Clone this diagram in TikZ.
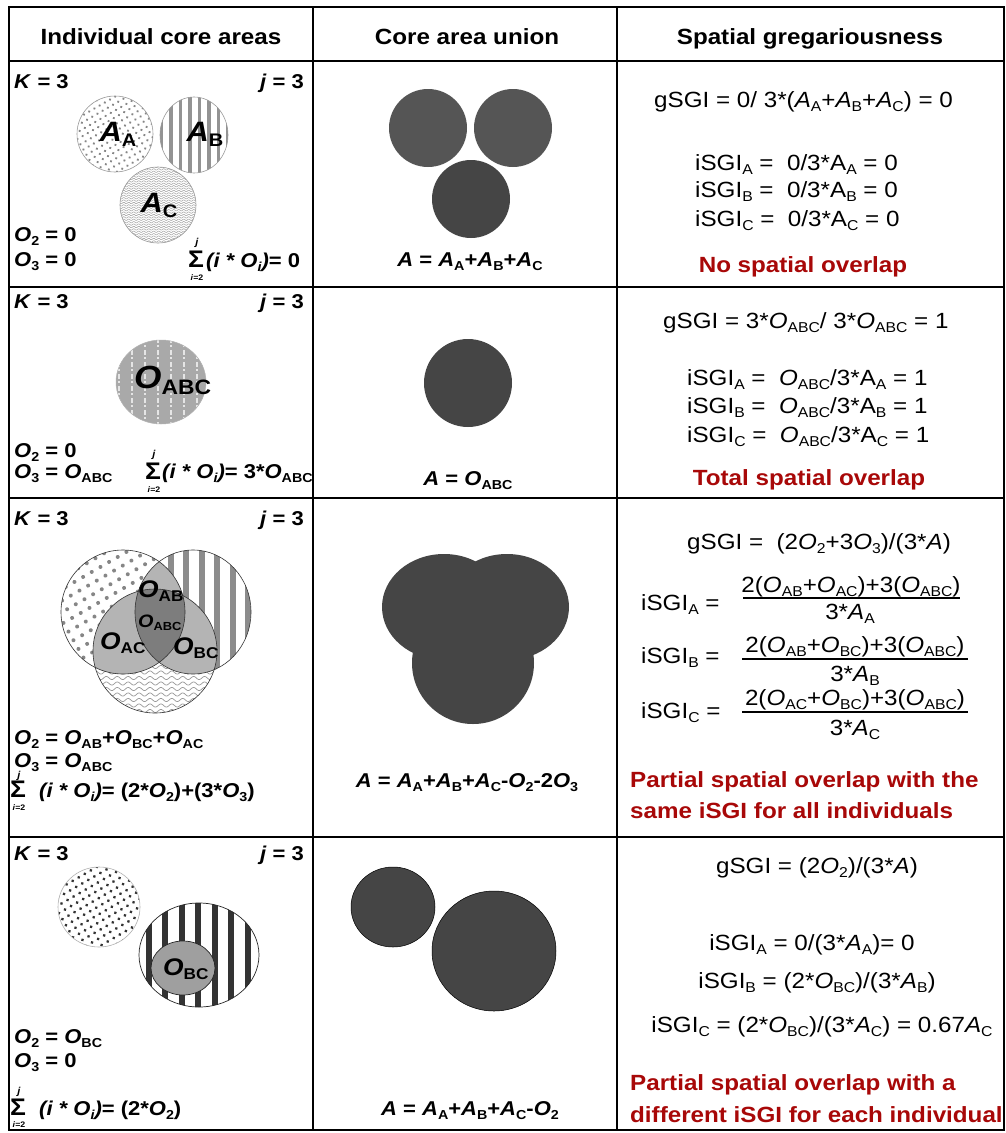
\documentclass[tikz,border=0pt]{standalone}
\usepackage{fontspec}
\setmainfont{Liberation Sans}[FakeStretch=1.1]
\usetikzlibrary{patterns.meta}
\makeatletter
\newcommand\sbs[1]{\raisebox{-0.2em}{\fontsize{\the\dimexpr\f@size pt*65/100\relax}{1pt}\selectfont #1}}
\makeatother
\definecolor{dred}{RGB}{168,8,8}
\definecolor{uA}{RGB}{85,85,85}
\definecolor{uB}{RGB}{69,69,69}
\definecolor{lg}{RGB}{180,180,180}
\definecolor{dg}{RGB}{125,125,125}
\tikzset{
  grid/.style={line width=2pt, black},
  hdr/.style={font=\fontsize{22}{26}\selectfont\bfseries, inner sep=0pt},
  lt/.style={font=\fontsize{20}{24}\selectfont\bfseries, inner sep=0pt},
  bigl/.style={font=\fontsize{28}{30}\selectfont\bfseries, inner sep=0pt},
  midl/.style={font=\fontsize{24}{26}\selectfont\bfseries, inner sep=0pt},
  smll/.style={font=\fontsize{18}{20}\selectfont\bfseries, inner sep=0pt},
  sig/.style={font=\fontsize{24}{26}\selectfont\bfseries, inner sep=0pt},
  tinyj/.style={font=\fontsize{10}{11}\selectfont\bfseries, inner sep=0pt},
  tinyi/.style={font=\fontsize{8}{9}\selectfont\bfseries, inner sep=0pt},
  rtx/.style={font=\fontsize{22}{26}\selectfont, inner sep=0pt},
  redt/.style={font=\fontsize{22}{26}\selectfont\bfseries, text=dred, inner sep=0pt},
  rim/.style={draw=gray!80, line width=0.6pt},
  wave/.style={gray!75, line width=0.5pt},
  wave3/.style={gray!80, line width=0.7pt},
}
\begin{document}
\begin{tikzpicture}[x=1pt,y=-1pt]
\useasboundingbox (0,0) rectangle (1005,1133);
\fill[white] (0,0) rectangle (1005,1133);

% ---------- headers
\node[hdr, anchor=base] (h1) at (161,44) {Individual core areas};
\node[hdr, anchor=base] (h2) at (467,44) {Core area union};
\node[hdr, anchor=base] (h3) at (810,44) {Spatial gregariousness};

% ================= ROW 1
\node[lt, anchor=base west] (k1) at (14,88) {\textit{K} = 3};
\node[lt, anchor=base east] (j1) at (304,88) {\textit{j} = 3};
\fill[pattern={Dots[radius=1.3pt, distance=6pt, angle=30]}, pattern color=gray!95] (115,134) circle[radius=38];
\draw[rim] (115,134) circle[radius=38];
\fill[pattern={Lines[angle=90, distance=9.5pt, line width=3.3pt]}, pattern color=gray!85] (194,135) ellipse[x radius=34, y radius=38];
\draw[rim] (194,135) ellipse[x radius=34, y radius=38];
\begin{scope}
  \clip (158,205) circle[radius=38];
  \foreach \yy in {167,169.4,...,245} \draw[wave] plot[domain=118:198, samples=130] (\x,{\yy+0.7*sin(72*\x)});
\end{scope}
\draw[rim] (158,205) circle[radius=38];
\node[bigl, anchor=base] (la1) at (118,141) {\textit{A}\sbs{A}};
\node[bigl, anchor=base] (lb1) at (205,141) {\textit{A}\sbs{B}};
\node[bigl, anchor=base] (lc1) at (159,212) {\textit{A}\sbs{C}};
\node[lt, anchor=base west] (o21) at (14,241) {\textit{O}\sbs{2} = 0};
\node[lt, anchor=base west] (o31) at (14,266) {\textit{O}\sbs{3} = 0};
\node[sig, anchor=base] (s1) at (196,267) {Σ};
\node[tinyj, anchor=base] (sj1) at (197,245) {\textit{j}};
\node[tinyi, anchor=base] (si1) at (197,280) {\textit{i}=2};
\node[lt, anchor=base west] (se1) at (206,267) {\textit{(i * O\sbs{i})}= 0};

\fill[uA] (428,128) circle[radius=39];
\fill[uA] (513,128) circle[radius=39];
\fill[uB] (471,199) circle[radius=39];
\node[lt, anchor=base] (m1) at (470,266) {\textit{A} = \textit{A}\sbs{A}+\textit{A}\sbs{B}+\textit{A}\sbs{C}};

\node[rtx, anchor=base west] (g1) at (654,107) {gSGI = 0/ 3*(\textit{A}\sbs{A}+\textit{A}\sbs{B}+\textit{A}\sbs{C}) = 0};
\node[rtx, anchor=base west] (i1a) at (695,170) {iSGI\sbs{A} = \ 0/3*A\sbs{A} = 0};
\node[rtx, anchor=base west] (i1b) at (695,197) {iSGI\sbs{B} = \ 0/3*A\sbs{B} = 0};
\node[rtx, anchor=base west] (i1c) at (695,226) {iSGI\sbs{C} = \ 0/3*A\sbs{C} = 0};
\node[redt, anchor=base] (r1) at (803,272) {No spatial overlap};

% ================= ROW 2
\node[lt, anchor=base west] (k2) at (14,308) {\textit{K} = 3};
\node[lt, anchor=base east] (j2) at (304,308) {\textit{j} = 3};
\fill[gray!88!black!60] (161,382) ellipse[x radius=45, y radius=42];
\begin{scope}
  \clip (161,382) ellipse[x radius=45, y radius=42];
  \foreach \xx in {119,132,...,210} \draw[white!80!gray, line width=2.2pt, dash pattern=on 5pt off 2pt on 2pt off 3pt] (\xx,338) -- (\xx,428);
\end{scope}
\draw[gray!60, line width=0.5pt] (161,382) ellipse[x radius=45, y radius=42];
\node[font=\fontsize{32}{34}\selectfont\bfseries, inner sep=0pt, anchor=base west] (lo2) at (134,388) {\textit{O}\sbs{ABC}};
\node[lt, anchor=base west] (o22) at (14,457) {\textit{O}\sbs{2} = 0};
\node[lt, anchor=base west] (o32) at (14,478) {\textit{O}\sbs{3} = \textit{O}\sbs{ABC}};
\node[sig, anchor=base] (s2) at (153,479) {Σ};
\node[tinyj, anchor=base] (sj2) at (154,457) {\textit{j}};
\node[tinyi, anchor=base] (si2) at (154,492) {\textit{i}=2};
\node[lt, anchor=base west] (se2) at (162,478) {\textit{(i * O\sbs{i})}= 3*\textit{O}\sbs{ABC}};

\fill[uB] (468,383) circle[radius=44];
\node[lt, anchor=base] (m2) at (468,485) {\textit{A} = \textit{O}\sbs{ABC}};

\node[rtx, anchor=base west] (g2) at (663,328) {gSGI = 3*\textit{O}\sbs{ABC}/ 3*\textit{O}\sbs{ABC} = 1};
\node[rtx, anchor=base west] (i2a) at (687,385) {iSGI\sbs{A} = \ \textit{O}\sbs{ABC}/3*A\sbs{A} = 1};
\node[rtx, anchor=base west] (i2b) at (687,413) {iSGI\sbs{B} = \ \textit{O}\sbs{ABC}/3*A\sbs{B} = 1};
\node[rtx, anchor=base west] (i2c) at (687,442) {iSGI\sbs{C} = \ \textit{O}\sbs{ABC}/3*A\sbs{C} = 1};
\node[redt, anchor=base] (r2) at (809,485) {Total spatial overlap};

% ================= ROW 3
\node[lt, anchor=base west] (k3) at (14,525) {\textit{K} = 3};
\node[lt, anchor=base east] (j3) at (304,525) {\textit{j} = 3};
\fill[pattern={Dots[radius=2pt, distance=10pt, angle=30]}, pattern color=gray!95] (123,612) circle[radius=62];
\fill[pattern={Lines[angle=90, distance=15.5pt, line width=6pt]}, pattern color=gray!90] (193,612) ellipse[x radius=58, y radius=62];
\begin{scope}
  \clip (155,651) circle[radius=62];
  \foreach \yy in {590,595.5,...,716} \draw[wave3] plot[domain=90:220, samples=110] (\x,{\yy+1.6*sin(33*\x)});
\end{scope}
\begin{scope}
  \clip (123,612) circle[radius=62];
  \fill[lg] (193,612) ellipse[x radius=58, y radius=62];
  \fill[lg] (155,651) circle[radius=62];
\end{scope}
\begin{scope}
  \clip (193,612) ellipse[x radius=58, y radius=62];
  \fill[lg] (155,651) circle[radius=62];
\end{scope}
\begin{scope}
  \clip (123,612) circle[radius=62];
  \clip (193,612) ellipse[x radius=58, y radius=62];
  \fill[dg] (155,651) circle[radius=62];
\end{scope}
\draw[gray!40!black, line width=0.6pt] (123,612) circle[radius=62];
\draw[gray!40!black, line width=0.6pt] (193,612) ellipse[x radius=58, y radius=62];
\draw[gray!40!black, line width=0.6pt] (155,651) circle[radius=62];
\node[midl, anchor=base west] (lab3) at (138,597) {\textit{O}\sbs{AB}};
\node[smll, anchor=base west] (labc3) at (138,627) {\textit{O}\sbs{ABC}};
\node[midl, anchor=base west] (lac3) at (100,649) {\textit{O}\sbs{AC}};
\node[midl, anchor=base west] (lbc3) at (173,654) {\textit{O}\sbs{BC}};
\node[lt, anchor=base west] (o23) at (14,744) {\textit{O}\sbs{2} = \textit{O}\sbs{AB}+\textit{O}\sbs{BC}+\textit{O}\sbs{AC}};
\node[lt, anchor=base west] (o33) at (14,767) {\textit{O}\sbs{3} = \textit{O}\sbs{ABC}};
\node[sig, anchor=base] (s3) at (18,797) {Σ};
\node[tinyj, anchor=base] (sj3) at (19,778) {\textit{j}};
\node[tinyi, anchor=base] (si3) at (19,810) {\textit{i}=2};
\node[lt, anchor=base west] (se3) at (39,797) {\textit{(i * O\sbs{i})}= (2*\textit{O}\sbs{2})+(3*\textit{O}\sbs{3})};

\fill[uB] (444,607) ellipse[x radius=62, y radius=53];
\fill[uB] (507,607) ellipse[x radius=62, y radius=53];
\fill[uB] (473,663) circle[radius=61];
\node[lt, anchor=base] (m3) at (467,787) {\textit{A} = \textit{A}\sbs{A}+\textit{A}\sbs{B}+\textit{A}\sbs{C}-\textit{O}\sbs{2}-2\textit{O}\sbs{3}};

\node[rtx, anchor=base west] (g3) at (687,549) {gSGI = \ (2\textit{O}\sbs{2}+3\textit{O}\sbs{3})/(3*\textit{A})};
\node[rtx, anchor=base west] (i3a) at (641,610) {iSGI\sbs{A} =};
\node[rtx, anchor=base] (n3a) at (851,592) {2(\textit{O}\sbs{AB}+\textit{O}\sbs{AC})+3(\textit{O}\sbs{ABC})};
\draw[line width=1.2pt] (743,598) -- (960,598);
\node[rtx, anchor=base] (d3a) at (850,619) {3*\textit{A}\sbs{A}};
\node[rtx, anchor=base west] (i3b) at (641,663) {iSGI\sbs{B} =};
\node[rtx, anchor=base] (n3b) at (855,652) {2(\textit{O}\sbs{AB}+\textit{O}\sbs{BC})+3(\textit{O}\sbs{ABC})};
\draw[line width=1.2pt] (742,659) -- (968,659);
\node[rtx, anchor=base] (d3b) at (855,681) {3*\textit{A}\sbs{B}};
\node[rtx, anchor=base west] (i3c) at (641,718) {iSGI\sbs{C} =};
\node[rtx, anchor=base] (n3c) at (855,705) {2(\textit{O}\sbs{AC}+\textit{O}\sbs{BC})+3(\textit{O}\sbs{ABC})};
\draw[line width=1.2pt] (742,712) -- (968,712);
\node[rtx, anchor=base] (d3c) at (855,735) {3*\textit{A}\sbs{C}};
\node[redt, anchor=base west] (r3a) at (630,787) {Partial spatial overlap with the};
\node[redt, anchor=base west] (r3b) at (630,818) {same iSGI for all individuals};

% ================= ROW 4
\node[lt, anchor=base west] (k4) at (14,860) {\textit{K} = 3};
\node[lt, anchor=base east] (j4) at (304,860) {\textit{j} = 3};
\fill[pattern={Dots[radius=1.6pt, distance=7pt, angle=30]}, pattern color=gray!40!black] (99,907) ellipse[x radius=41, y radius=40];
\draw[gray!60, line width=0.6pt] (99,907) ellipse[x radius=41, y radius=40];
\fill[pattern={Lines[angle=90, distance=16.5pt, line width=6pt]}, pattern color=gray!40!black] (199,955) ellipse[x radius=60, y radius=52];
\draw[gray!30!black, line width=0.7pt] (199,955) ellipse[x radius=60, y radius=52];
\fill[gray!75] (183,968) ellipse[x radius=32, y radius=27];
\draw[gray!30!black, line width=0.7pt] (183,968) ellipse[x radius=32, y radius=27];
\node[midl, anchor=base west] (lbc4) at (163,975) {\textit{O}\sbs{BC}};
\node[lt, anchor=base west] (o24) at (14,1043) {\textit{O}\sbs{2} = \textit{O}\sbs{BC}};
\node[lt, anchor=base west] (o34) at (14,1067) {\textit{O}\sbs{3} = 0};
\node[sig, anchor=base] (s4) at (18,1115) {Σ};
\node[tinyj, anchor=base] (sj4) at (19,1094) {\textit{j}};
\node[tinyi, anchor=base] (si4) at (19,1127) {\textit{i}=2};
\node[lt, anchor=base west] (se4) at (39,1115) {\textit{(i * O\sbs{i})}= (2*\textit{O}\sbs{2})};

\fill[uB, draw=black, line width=0.5pt] (393,907) ellipse[x radius=42, y radius=40];
\fill[uB, draw=black, line width=0.5pt] (494,951) ellipse[x radius=62, y radius=60];
\node[lt, anchor=base] (m4) at (470,1115) {\textit{A} = \textit{A}\sbs{A}+\textit{A}\sbs{B}+\textit{A}\sbs{C}-\textit{O}\sbs{2}};

\node[rtx, anchor=base] (g4) at (817,873) {gSGI = (2\textit{O}\sbs{2})/(3*\textit{A})};
\node[rtx, anchor=base] (i4a) at (812,950) {iSGI\sbs{A} = 0/(3*\textit{A}\sbs{A})= 0};
\node[rtx, anchor=base] (i4b) at (817,988) {iSGI\sbs{B} = (2*\textit{O}\sbs{BC})/(3*\textit{A}\sbs{B})};
\node[rtx, anchor=base] (i4c) at (822,1032) {iSGI\sbs{C} = (2*\textit{O}\sbs{BC})/(3*\textit{A}\sbs{C}) = 0.67\textit{A}\sbs{C}};
\node[redt, anchor=base west] (r4a) at (630,1090) {Partial spatial overlap with a};
\node[redt, anchor=base west] (r4b) at (630,1122) {different iSGI for each individual};

% ---------- grid
\draw[grid] (9,7) rectangle (1004,1130);
\draw[grid] (313,7) -- (313,1130);
\draw[grid] (617,7) -- (617,1130);
\draw[grid] (9,61) -- (1004,61);
\draw[grid] (9,287) -- (1004,287);
\draw[grid] (9,498) -- (1004,498);
\draw[grid] (9,837) -- (1004,837);
\end{tikzpicture}
\end{document}
